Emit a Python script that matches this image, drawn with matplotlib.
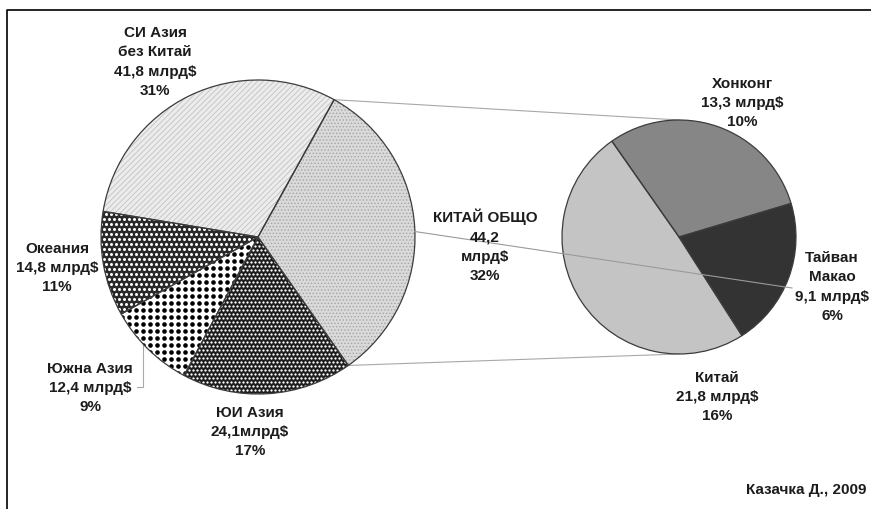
import numpy as np
import matplotlib.pyplot as plt
from matplotlib.patches import Wedge

plt.rcParams['font.family'] = ['Liberation Sans', 'DejaVu Sans']
plt.rcParams['hatch.linewidth'] = 0.6

W, H = 871, 510

# износ по региони, млрд $ (лява диаграма - Азия, дясна - Китай общо)
left_names = ['КИТАЙ ОБЩО', 'ЮИ Азия', 'Южна Азия', 'Океания', 'СИ Азия\nбез Китай']
left_values = [44.2, 24.1, 12.4, 14.8, 41.8]
left_pct = [32, 17, 9, 11, 31]
left_sep = ['\n', '', ' ', ' ', ' ']

right_names = ['Хонконг', 'Тайван\nМакао', 'Китай']
right_values = [13.3, 9.1, 21.8]
right_pct = [10, 6, 16]
right_sep = [' ', ' ', ' ']

source = 'Казачка Д., 2009'


def px(x, y):
    # пиксели отгоре-надолу -> координати на осите
    return x, H - y


def make_label(name, val, sep, pct):
    return f"{name}\n{val:.1f}".replace('.', ',') + f"{sep}млрд$\n{pct}%"


fig = plt.figure(figsize=(W / 100, H / 100), dpi=100)
ax = fig.add_axes([0, 0, 1, 1])

left_c, left_r = px(258, 238), 157
right_c, right_r = px(679, 238), 117

left_faces = ['#dadada', '#1e1e1e', 'white', '#2a2a2a', '#ececec']
right_faces = ['#868686', '#333333', '#c4c4c4']

lwedges, _ = ax.pie(left_values, center=left_c, radius=left_r, startangle=61,
                    counterclock=False, colors=left_faces,
                    wedgeprops=dict(linewidth=0, zorder=1))
rwedges, _ = ax.pie(right_values, center=right_c, radius=right_r, startangle=125,
                    counterclock=False, colors=right_faces,
                    wedgeprops=dict(linewidth=0, zorder=1))


def dots(w, step, d, color, stagger=True):
    cx, cy = w.center
    xs = np.arange(cx - w.r, cx + w.r + step, step)
    ys = np.arange(cy - w.r, cy + w.r + step, step)
    gx, gy = np.meshgrid(xs, ys)
    if stagger:
        gx[1::2] += step / 2
    sc = ax.scatter(gx.ravel(), gy.ravel(), s=(d * 0.72) ** 2, c=color,
                    linewidths=0, zorder=2)
    sc.set_clip_path(w)


def hatch(w, pattern, color):
    ax.add_patch(Wedge(w.center, w.r, w.theta1, w.theta2, fill=False,
                       hatch=pattern, edgecolor=color, linewidth=0, zorder=2))


# шарки на сегментите
hatch(lwedges[0], '.....', '#a4a4a4')
dots(lwedges[1], 4.0, 2.3, 'white')
dots(lwedges[2], 7.0, 4.6, 'black', stagger=False)
dots(lwedges[3], 5.0, 3.0, 'white')
hatch(lwedges[4], '//////', '#c2c2c2')

# контури
for w in list(lwedges) + list(rwedges):
    ax.add_patch(Wedge(w.center, w.r, w.theta1, w.theta2, fill=False,
                       edgecolor='#3c3c3c', linewidth=0.9, zorder=3))

# свързващи линии между двете диаграми
kit = lwedges[0]


def edge_pt(c, r, ang):
    a = np.deg2rad(ang)
    return c[0] + r * np.cos(a), c[1] + r * np.sin(a)


for ang_l, ang_r in [(kit.theta2, 90), (kit.theta1, -90)]:
    p1 = edge_pt(left_c, left_r, ang_l)
    p2 = edge_pt(right_c, right_r, ang_r)
    ax.plot([p1[0], p2[0]], [p1[1], p2[1]], color='#a8a8a8', lw=0.8, zorder=0)

# водещи линии към етикетите
p1 = edge_pt(left_c, left_r, 2)
p2 = px(792, 289)
ax.plot([p1[0], p2[0]], [p1[1], p2[1]], color='#9a9a9a', lw=0.8, zorder=4)
p1 = edge_pt(left_c, left_r, 222.9)
ax.plot([p1[0], p1[0], 137], [p1[1], H - 388, H - 388], color='#a8a8a8', lw=0.8, zorder=0)

left_label_pos = [(485, 246), (250, 432), (90, 388), (57, 268), (155, 62)]
right_label_pos = [(742, 103), (832, 287), (717, 397)]

txt = dict(ha='center', va='center', fontsize=11, fontweight='bold',
           color='#1c1c1c', linespacing=1.47, zorder=5)
for name, val, sep, pct, pos in zip(left_names, left_values, left_sep, left_pct, left_label_pos):
    ax.text(*px(*pos), make_label(name, val, sep, pct), **txt)
for name, val, sep, pct, pos in zip(right_names, right_values, right_sep, right_pct, right_label_pos):
    ax.text(*px(*pos), make_label(name, val, sep, pct), **txt)

ax.text(*px(866, 490), source, ha='right', va='center', fontsize=11,
        fontweight='bold', color='#1c1c1c')

# рамка
ax.plot([7, 7, W + 10], [-10, H - 11, H - 11], color='black', lw=1.2, zorder=6)

ax.set_xlim(0, W)
ax.set_ylim(0, H)
ax.set_aspect('auto')
ax.axis('off')

fig.savefig('out.png', dpi=100)
